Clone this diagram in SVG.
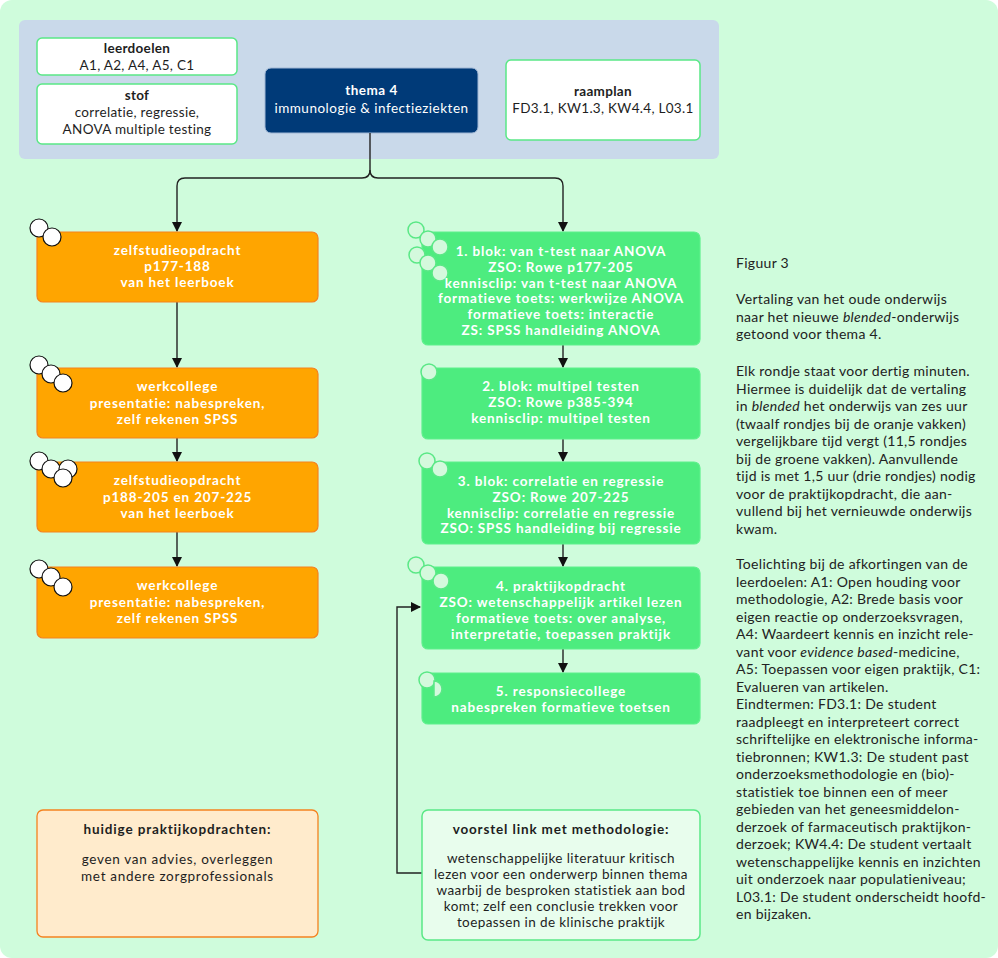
<svg xmlns="http://www.w3.org/2000/svg" width="998" height="958" viewBox="0 0 998 958">
<defs>
<style>
text{font-family:Lato,"Liberation Sans",sans-serif;font-size:13.5px;letter-spacing:0.4px}
.c{text-anchor:middle}
.b{font-weight:bold;letter-spacing:0.85px}
.t{letter-spacing:0.3px}
.w{fill:#ffffff}
.k{fill:#1e1e1e}
.org{fill:#ffa500;stroke:#f5821f;stroke-width:1.2}
.grn{fill:#4dec7f;stroke:#5ef08c;stroke-width:1.2}
.wb{fill:#ffffff;stroke:#5ae886;stroke-width:1.5}
.oc{fill:#ffffff;stroke:#111111;stroke-width:1.2}
.gc{fill:#d4f9dd;stroke:#5ae886;stroke-width:1.5}
.ln{fill:none;stroke:#222222;stroke-width:1.4}
.side{font-size:14px;letter-spacing:0.3px;fill:#222222}
</style>
<marker id="ah" markerWidth="10" markerHeight="10" refX="9" refY="5" orient="auto" markerUnits="userSpaceOnUse">
<path d="M0,0 L10,5 L0,10 z" fill="#111111"/>
</marker>
</defs>
<rect x="0" y="0" width="998" height="958" rx="12" fill="#cffcdc"/>
<rect x="19" y="20" width="700" height="139" rx="6" fill="#c9d9ea"/>

<g id="leerdoelen">
<rect class="wb" x="37" y="38" width="200" height="37" rx="5"/>
<text class="c b k t" x="137" y="53">leerdoelen</text>
<text class="c k t" x="137" y="70">A1, A2, A4, A5, C1</text>
</g>
<g id="stof">
<rect class="wb" x="37" y="84" width="200" height="60" rx="5"/>
<text class="c b k t" x="137" y="100">stof</text>
<text class="c k t" x="137" y="117">correlatie, regressie,</text>
<text class="c k t" x="137" y="134">ANOVA multiple testing</text>
</g>
<g id="thema4">
<rect x="265" y="68" width="213" height="65" rx="6" fill="#003a78" stroke="#9fb6d4" stroke-width="1"/>
<text class="c b w" x="371.5" y="95" style="letter-spacing:0.5px">thema 4</text>
<text class="c w" x="371.5" y="113" style="letter-spacing:0.5px">immunologie &amp; infectieziekten</text>
</g>
<g id="raamplan">
<rect class="wb" x="506" y="60" width="194" height="80" rx="5"/>
<text class="c b k t" x="603" y="96">raamplan</text>
<text class="c k t" x="603" y="113">FD3.1, KW1.3, KW4.4, L03.1</text>
</g>

<g id="connectors">
<path class="ln" d="M370,133 V170 Q370,178 362,178 H185 Q177,178 177,186 V231" marker-end="url(#ah)"/>
<path class="ln" d="M370,170 Q370,178 378,178 H555 Q563,178 563,186 V231" marker-end="url(#ah)"/>
<path class="ln" d="M177,302 V367" marker-end="url(#ah)"/>
<path class="ln" d="M177,438 V461" marker-end="url(#ah)"/>
<path class="ln" d="M177,532 V566" marker-end="url(#ah)"/>
<path class="ln" d="M563,345 V367" marker-end="url(#ah)"/>
<path class="ln" d="M563,439 V461" marker-end="url(#ah)"/>
<path class="ln" d="M563,544 V566" marker-end="url(#ah)"/>
<path class="ln" d="M563,649 V672" marker-end="url(#ah)"/>
<path class="ln" d="M423,873 H397 V607 H420" marker-end="url(#ah)"/>
</g>

<g id="zelfstudie1">
<rect class="org" x="37" y="232" width="281" height="70" rx="6"/>
<circle class="oc" cx="39" cy="228" r="9"/>
<circle class="oc" cx="52" cy="237" r="9"/>
<text class="c b w" x="177.5" y="255">zelfstudieopdracht</text>
<text class="c b w" x="177.5" y="271">p177-188</text>
<text class="c b w" x="177.5" y="287">van het leerboek</text>
</g>
<g id="werkcollege1">
<rect class="org" x="37" y="368" width="281" height="70" rx="6"/>
<circle class="oc" cx="39" cy="365" r="9"/>
<circle class="oc" cx="51" cy="374" r="9"/>
<circle class="oc" cx="63" cy="383" r="9"/>
<text class="c b w" x="177.5" y="391">werkcollege</text>
<text class="c b w" x="177.5" y="408">presentatie: nabespreken,</text>
<text class="c b w" x="177.5" y="424">zelf rekenen SPSS</text>
</g>
<g id="zelfstudie2">
<rect class="org" x="37" y="462" width="281" height="70" rx="6"/>
<circle class="oc" cx="39" cy="461" r="9"/>
<circle class="oc" cx="51" cy="469" r="9"/>
<circle class="oc" cx="68" cy="469" r="9"/>
<circle class="oc" cx="63" cy="478" r="9"/>
<text class="c b w" x="177.5" y="485">zelfstudieopdracht</text>
<text class="c b w" x="177.5" y="502">p188-205 en 207-225</text>
<text class="c b w" x="177.5" y="518">van het leerboek</text>
</g>
<g id="werkcollege2">
<rect class="org" x="37" y="567" width="281" height="71" rx="6"/>
<circle class="oc" cx="39" cy="569" r="9"/>
<circle class="oc" cx="51" cy="577" r="9"/>
<circle class="oc" cx="63" cy="587" r="9"/>
<text class="c b w" x="177.5" y="590">werkcollege</text>
<text class="c b w" x="177.5" y="607">presentatie: nabespreken,</text>
<text class="c b w" x="177.5" y="623">zelf rekenen SPSS</text>
</g>

<g id="blok1">
<rect class="grn" x="422" y="232" width="278" height="113" rx="6"/>
<circle class="gc" cx="416" cy="230" r="8"/>
<circle class="gc" cx="428" cy="239" r="8"/>
<circle class="gc" cx="440" cy="247" r="8"/>
<circle class="gc" cx="417" cy="255" r="8"/>
<circle class="gc" cx="428" cy="263" r="8"/>
<circle class="gc" cx="440" cy="273" r="8"/>
<text class="c b w" x="561" y="256">1. blok: van t-test naar ANOVA</text>
<text class="c b w" x="561" y="272">ZSO: Rowe p177-205</text>
<text class="c b w" x="561" y="287.5">kennisclip: van t-test naar ANOVA</text>
<text class="c b w" x="561" y="303">formatieve toets: werkwijze ANOVA</text>
<text class="c b w" x="561" y="319">formatieve toets: interactie</text>
<text class="c b w" x="561" y="334.5">ZS: SPSS handleiding ANOVA</text>
</g>
<g id="blok2">
<rect class="grn" x="422" y="368" width="278" height="71" rx="6"/>
<circle class="gc" cx="429" cy="372" r="8"/>
<text class="c b w" x="561" y="391">2. blok: multipel testen</text>
<text class="c b w" x="561" y="407">ZSO: Rowe p385-394</text>
<text class="c b w" x="561" y="423">kennisclip: multipel testen</text>
</g>
<g id="blok3">
<rect class="grn" x="422" y="462" width="278" height="82" rx="6"/>
<circle class="gc" cx="427" cy="461" r="8"/>
<circle class="gc" cx="440" cy="469" r="8"/>
<text class="c b w" x="561" y="486">3. blok: correlatie en regressie</text>
<text class="c b w" x="561" y="502">ZSO: Rowe 207-225</text>
<text class="c b w" x="561" y="517.5">kennisclip: correlatie en regressie</text>
<text class="c b w" x="561" y="533">ZSO: SPSS handleiding bij regressie</text>
</g>
<g id="blok4">
<rect class="grn" x="422" y="567" width="278" height="82" rx="6"/>
<circle class="gc" cx="416" cy="565" r="8"/>
<circle class="gc" cx="428" cy="573" r="8"/>
<circle class="gc" cx="441" cy="581" r="8"/>
<text class="c b w" x="561" y="591">4. praktijkopdracht</text>
<text class="c b w" x="561" y="607">ZSO: wetenschappelijk artikel lezen</text>
<text class="c b w" x="561" y="623">formatieve toets: over analyse,</text>
<text class="c b w" x="561" y="639">interpretatie, toepassen praktijk</text>
</g>
<g id="blok5">
<rect class="grn" x="422" y="673" width="278" height="51" rx="6"/>
<circle class="gc" cx="427" cy="680" r="8"/>
<path class="gc" d="M434,681 A8,8 0 0 1 434,697 Z"/>
<text class="c b w" x="561" y="696">5. responsiecollege</text>
<text class="c b w" x="561" y="712">nabespreken formatieve toetsen</text>
</g>

<g id="huidige">
<rect x="37" y="810" width="281" height="127" rx="6" fill="#ffebcc" stroke="#f5821f" stroke-width="1.3"/>
<text class="c b k" x="177.5" y="834">huidige praktijkopdrachten:</text>
<text class="c k" x="177.5" y="864" style="letter-spacing:0.7px">geven van advies, overleggen</text>
<text class="c k" x="177.5" y="881" style="letter-spacing:0.7px">met andere zorgprofessionals</text>
</g>
<g id="voorstel">
<rect x="422" y="810" width="278" height="130" rx="6" fill="#e8fded" stroke="#5ae886" stroke-width="1.5"/>
<text class="c b k" x="561" y="834">voorstel link met methodologie:</text>
<text class="c k" x="561" y="863">wetenschappelijke literatuur kritisch</text>
<text class="c k" x="561" y="879">lezen voor een onderwerp binnen thema</text>
<text class="c k" x="561" y="895">waarbij de besproken statistiek aan bod</text>
<text class="c k" x="561" y="911">komt; zelf een conclusie trekken voor</text>
<text class="c k" x="561" y="927">toepassen in de klinische praktijk</text>
</g>

<g id="caption">
<text class="side" x="736" y="268">Figuur 3</text>
<text class="side" x="736" y="304">Vertaling van het oude onderwijs</text>
<text class="side" x="736" y="321.5">naar het nieuwe <tspan font-style="italic">blended</tspan>-onderwijs</text>
<text class="side" x="736" y="339">getoond voor thema 4.</text>
<text class="side" x="736" y="376">Elk rondje staat voor dertig minuten.</text>
<text class="side" x="736" y="393.5">Hiermee is duidelijk dat de vertaling</text>
<text class="side" x="736" y="411">in <tspan font-style="italic">blended</tspan> het onderwijs van zes uur</text>
<text class="side" x="736" y="428.5">(twaalf rondjes bij de oranje vakken)</text>
<text class="side" x="736" y="446">vergelijkbare tijd vergt (11,5 rondjes</text>
<text class="side" x="736" y="463.5">bij de groene vakken). Aanvullende</text>
<text class="side" x="736" y="481">tijd is met 1,5 uur (drie rondjes) nodig</text>
<text class="side" x="736" y="498.5">voor de praktijkopdracht, die aan-</text>
<text class="side" x="736" y="516">vullend bij het vernieuwde onderwijs</text>
<text class="side" x="736" y="533.5">kwam.</text>
<text class="side" x="736" y="569">Toelichting bij de afkortingen van de</text>
<text class="side" x="736" y="586.5">leerdoelen: A1: Open houding voor</text>
<text class="side" x="736" y="604">methodologie, A2: Brede basis voor</text>
<text class="side" x="736" y="621.5">eigen reactie op onderzoeksvragen,</text>
<text class="side" x="736" y="639">A4: Waardeert kennis en inzicht rele-</text>
<text class="side" x="736" y="656.5">vant voor <tspan font-style="italic">evidence based</tspan>-medicine,</text>
<text class="side" x="736" y="674">A5: Toepassen voor eigen praktijk, C1:</text>
<text class="side" x="736" y="691.5">Evalueren van artikelen.</text>
<text class="side" x="736" y="709">Eindtermen: FD3.1: De student</text>
<text class="side" x="736" y="726.5">raadpleegt en interpreteert correct</text>
<text class="side" x="736" y="744">schriftelijke en elektronische informa-</text>
<text class="side" x="736" y="761.5">tiebronnen; KW1.3: De student past</text>
<text class="side" x="736" y="779">onderzoeksmethodologie en (bio)-</text>
<text class="side" x="736" y="796.5">statistiek toe binnen een of meer</text>
<text class="side" x="736" y="814">gebieden van het geneesmiddelon-</text>
<text class="side" x="736" y="831.5">derzoek of farmaceutisch praktijkon-</text>
<text class="side" x="736" y="849">derzoek; KW4.4: De student vertaalt</text>
<text class="side" x="736" y="866.5">wetenschappelijke kennis en inzichten</text>
<text class="side" x="736" y="884">uit onderzoek naar populatieniveau;</text>
<text class="side" x="736" y="901.5">L03.1: De student onderscheidt hoofd-</text>
<text class="side" x="736" y="919">en bijzaken.</text>
</g>
</svg>
